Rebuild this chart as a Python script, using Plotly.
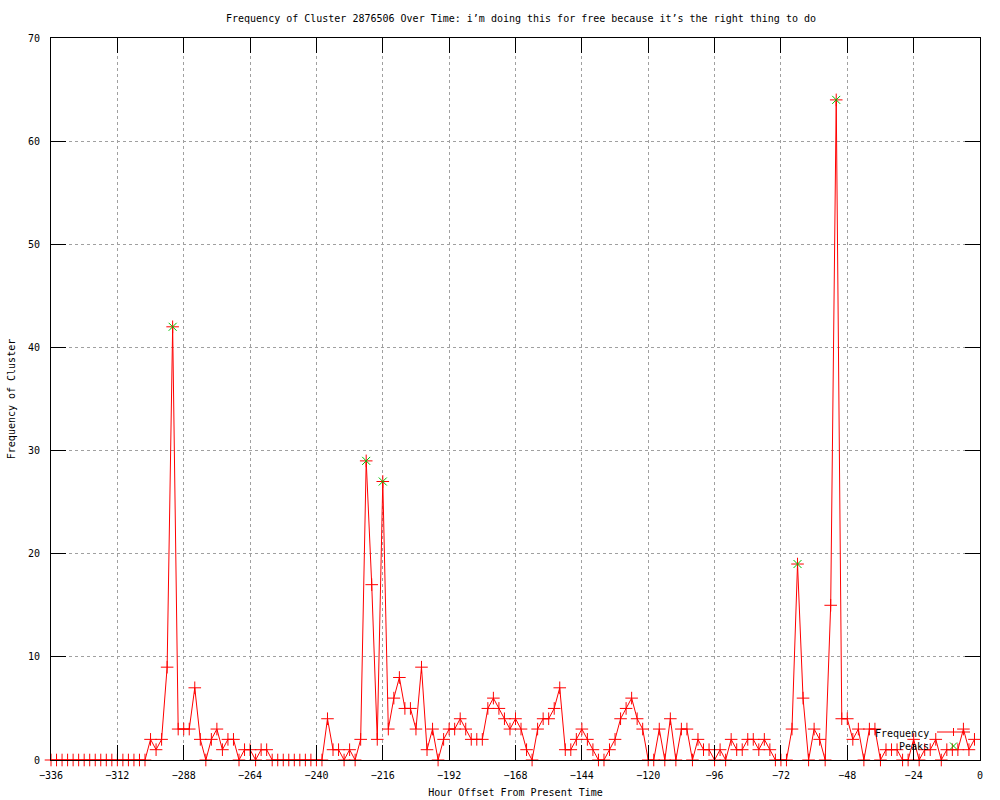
import plotly.graph_objects as go

hours = list(range(-336, 0, 2))
frequency = (
    [0] * 17 +                      # -336 .. -304
    [0, 2, 1, 2, 9, 42, 3, 3, 3, 7, 2, 0, 2, 3, 1, 2, 2, 0, 1, 1, 0, 1, 1] +   # -302 .. -258
    [0] * 10 +                      # -256 .. -238
    [4, 1, 1, 0, 1, 0, 2, 29, 17, 2, 27, 3, 6, 8, 5, 5, 3, 9, 1, 3, 0, 2,      # -236 .. -194
     3, 3, 4, 3, 2, 2, 2, 5, 6, 5, 4, 3, 4, 3, 1, 0, 3, 4, 4, 5, 7, 1, 1,      # -192 .. -148
     2, 3, 2, 1, 0, 0, 1, 2, 4, 5, 6, 4, 3, 0, 0, 3, 0, 4, 0, 3, 3, 0, 2,      # -146 .. -102
     1, 1, 0, 1, 0, 2, 1, 1, 2, 2, 1, 2, 1, 0, 0, 0, 3, 19, 6, 0, 3, 2, 0,     # -100 .. -56
     15, 64, 4, 4, 2, 3, 0, 3, 3, 0, 1, 1, 1, 0, 0, 2, 0, 1, 1, 2, 0, 1, 1,    # -54 .. -10
     1, 3, 1, 2]                    # -8 .. -2
)
peak_hours = [-292, -222, -216, -66, -52]
peak_values = [42, 29, 27, 19, 64]

x_ticks = list(range(-336, 1, 24))
y_ticks = list(range(0, 71, 10))

FONT = "DejaVu Sans Mono"
RED = "#ff0000"
GREEN = "#00c000"

fig = go.Figure()
fig.add_trace(go.Scatter(
    x=hours, y=frequency, mode="lines+markers", name="Frequency",
    line=dict(color=RED, width=1),
    marker=dict(symbol="cross-thin", size=9, line=dict(color=RED, width=1)),
    cliponaxis=False, showlegend=False,
))
fig.add_trace(go.Scatter(
    x=peak_hours, y=peak_values, mode="markers", name="Peaks",
    marker=dict(symbol="x-thin", size=8, line=dict(color=GREEN, width=1)),
    cliponaxis=False, showlegend=False,
))

axis_common = dict(
    showline=True, linecolor="black", linewidth=1, mirror="ticks",
    ticks="inside", ticklen=15, tickcolor="black", tickwidth=1,
    showgrid=True, gridcolor="#a0a0a0", griddash="dot", gridwidth=1,
    zeroline=False, tickfont=dict(family=FONT, size=10, color="black"),
)

fig.update_layout(
    width=1000, height=800,
    margin=dict(l=51, r=20, t=38, b=40, autoexpand=False),
    paper_bgcolor="white", plot_bgcolor="white",
    font=dict(family=FONT, size=10, color="black"),
    title=dict(
        text="Frequency of Cluster 2876506 Over Time: i’m doing this for free because it’s the right thing to do",
        x=(521 - 51) / 929, xref="paper", xanchor="center",
        y=1 - 18 / 800, yref="container", yanchor="middle",
        font=dict(family=FONT, size=10, color="black"),
    ),
    xaxis=dict(
        range=[-336, 0], tickvals=x_ticks, ticklabelstandoff=6,
        title=dict(text="Hour Offset From Present Time", standoff=8,
                   font=dict(family=FONT, size=10)),
        **axis_common,
    ),
    yaxis=dict(
        range=[0, 70], tickvals=y_ticks, ticklabelstandoff=8,
        title=dict(text="Frequency of Cluster", standoff=10,
                   font=dict(family=FONT, size=10)),
        **axis_common,
    ),
    showlegend=False,
)

# gnuplot-style key: text right-aligned, sample to its right
def px(xp):
    return (xp - 51) / 929

def py(yp):
    return (760 - yp) / 722

fig.add_annotation(text="Frequency", x=px(931), y=py(733), xref="paper", yref="paper",
                   xanchor="right", yanchor="middle", showarrow=False,
                   font=dict(family=FONT, size=10, color="black"))
fig.add_annotation(text="Peaks", x=px(931), y=py(746), xref="paper", yref="paper",
                   xanchor="right", yanchor="middle", showarrow=False,
                   font=dict(family=FONT, size=10, color="black"))
fig.add_shape(type="line", xref="paper", yref="paper",
              x0=px(937), x1=px(970), y0=py(732), y1=py(732),
              line=dict(color=RED, width=1))
fig.add_shape(type="line", xref="paper", yref="paper",
              x0=px(953.5), x1=px(953.5), y0=py(728), y1=py(736),
              line=dict(color=RED, width=1))
fig.add_shape(type="line", xref="paper", yref="paper",
              x0=px(950), x1=px(957), y0=py(742.5), y1=py(749.5),
              line=dict(color=GREEN, width=1))
fig.add_shape(type="line", xref="paper", yref="paper",
              x0=px(950), x1=px(957), y0=py(749.5), y1=py(742.5),
              line=dict(color=GREEN, width=1))

fig.write_html(
    "out.html",
    config={"displayModeBar": False},
    post_script="document.body.style.margin='0';document.body.style.overflow='hidden';",
)
